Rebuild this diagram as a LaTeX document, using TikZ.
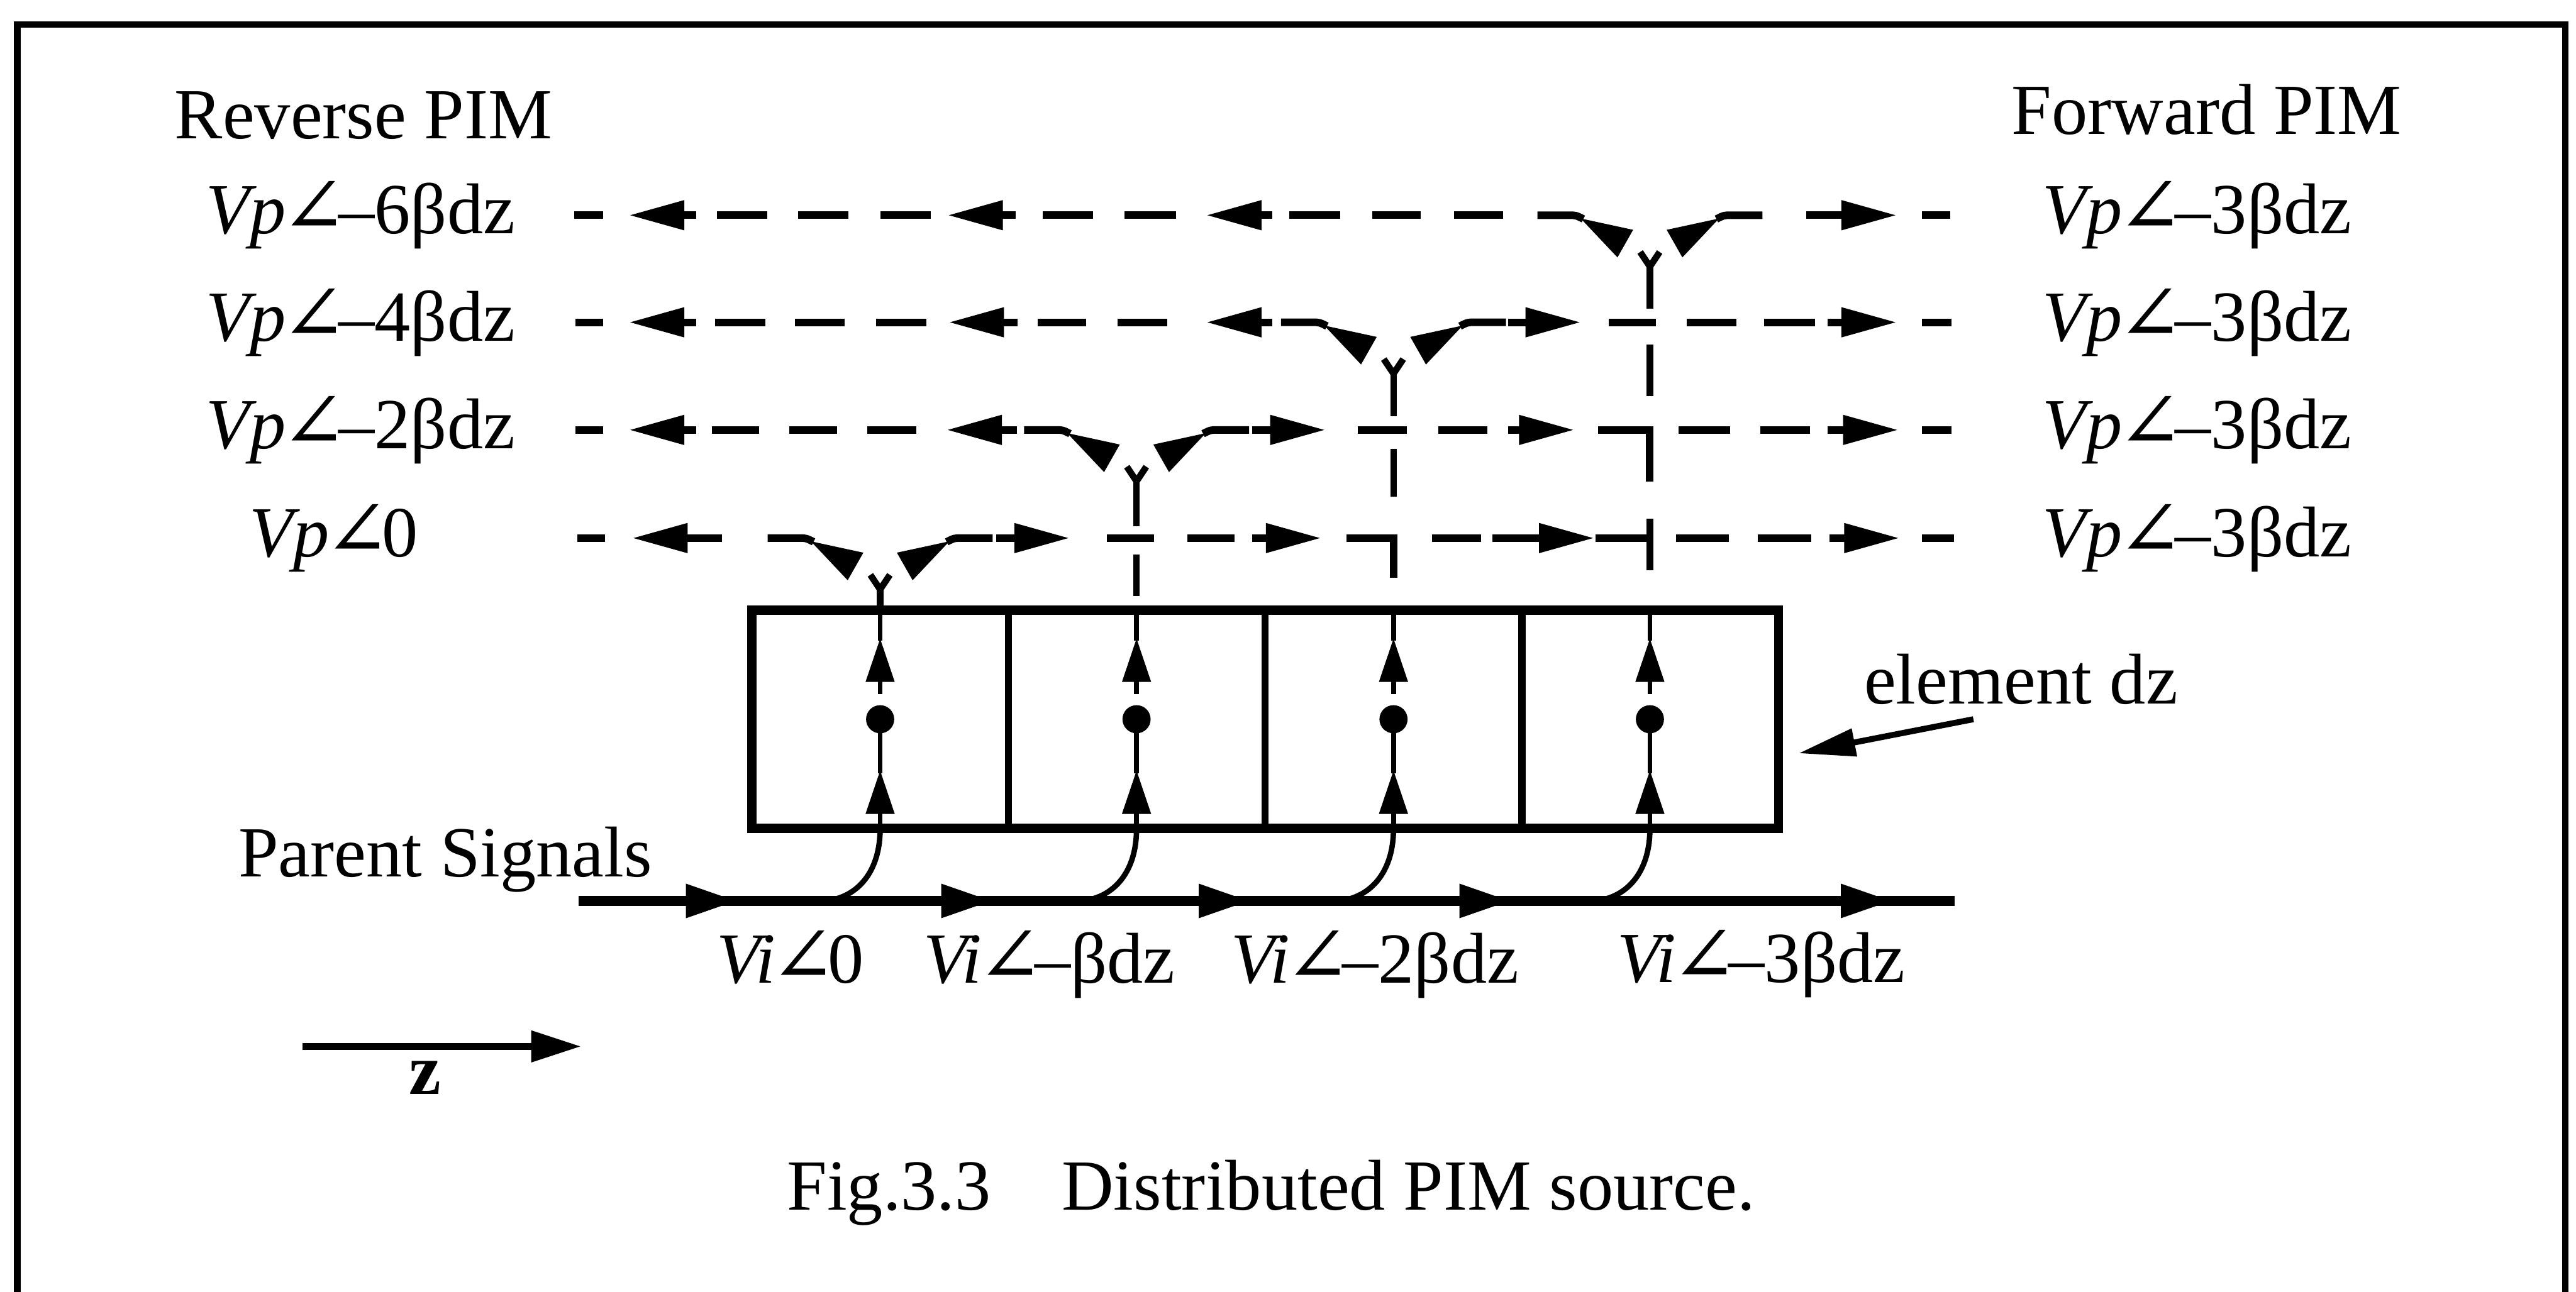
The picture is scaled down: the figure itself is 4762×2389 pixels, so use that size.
\documentclass[tikz,border=0pt]{standalone}
\usepackage{fontspec}
\setmainfont{Liberation Serif}
\newfontfamily\angfont{DejaVu Serif}[Scale=1.1]
\usetikzlibrary{arrows.meta}
\newcommand\ang{\kern-0.07em{\angfont\char"2220}\kern-0.12em}
\newcommand\vplab[1]{\textit{Vp}\ang#1}
\newcommand\vilab[1]{\textit{Vi}\ang#1}
% filled arrowheads: tip x, tip y
\newcommand\lh[2]{\fill (#1,#2) -- (#1+100,#2-28) -- (#1+100,#2+28) -- cycle;}
\newcommand\rh[2]{\fill (#1,#2) -- (#1-100,#2-28) -- (#1-100,#2+28) -- cycle;}
\newcommand\mh[2]{\fill (#1,#2) -- (#1-92,#2-32) -- (#1-92,#2+32) -- cycle;}
\newcommand\uh[2]{\fill (#1,#2) -- (#1-27,#2+80) -- (#1+27,#2+80) -- cycle;}
% junction: column x, row y
\newcommand\junction[2]{%
  \draw[vl] (#1,#2+95) -- (#1-18,#2+68) (#1,#2+95) -- (#1+18,#2+68);
  \draw[hl] (#1-208,#2) -- (#1-150,#2) .. controls (#1-137,#2) .. (#1-123,#2+7);
  \draw[hl] (#1+208,#2) -- (#1+150,#2) .. controls (#1+137,#2) .. (#1+123,#2+7);
  \fill (#1-128,#2+6) -- (#1-31,#2+27) -- (#1-60,#2+78) -- cycle;
  \fill (#1+128,#2+6) -- (#1+31,#2+27) -- (#1+60,#2+78) -- cycle;}
% one dashed row: y, dashes, left arrows (tip/stub), right arrows (stub/tip)
\newcommand\row[4]{%
  \foreach \a/\b in {#2} {\draw[hl] (\a,#1) -- (\b,#1);}
  \foreach \t/\s in {#3} {\draw[hl] (\t+50,#1) -- (\s,#1); \lh{\t}{#1}}
  \foreach \s/\t in {#4} {\draw[hl] (\s,#1) -- (\t-50,#1); \rh{\t}{#1}}}
\begin{document}
\begin{tikzpicture}[x=0.1pt,y=-0.1pt,
  txt/.style={inner sep=0pt,font=\fontsize{13.3}{16}\selectfont},
  hl/.style={line width=1.4pt},
  vl/.style={line width=1.2pt},
  thinl/.style={line width=0.9pt},
  mainl/.style={line width=1.8pt},
  framel/.style={line width=1.2pt},
  stripbox/.style={draw,line width=1.7pt,inner sep=0pt,minimum width=189.8pt,minimum height=40.4pt}]
\useasboundingbox (0,0) rectangle (4762,2389);
\draw[framel] (32,2389) -- (32,45) -- (4742,45) -- (4742,2389);

% headings
\node[txt,anchor=base west] (rev) at (321,256) {Reverse PIM};
\node[txt,anchor=base west] (fwd) at (3717,248) {Forward PIM};

% row labels
\node[txt,anchor=west] (l1) at (379,398) {\vplab{–6βdz}};
\node[txt,anchor=west] (l2) at (379,596) {\vplab{–4βdz}};
\node[txt,anchor=west] (l3) at (379,795) {\vplab{–2βdz}};
\node[txt,anchor=west] (l4) at (459,995) {\vplab{0}};
\node[txt,anchor=west] (r1) at (3774,398) {\vplab{–3βdz}};
\node[txt,anchor=west] (r2) at (3774,596) {\vplab{–3βdz}};
\node[txt,anchor=west] (r3) at (3774,795) {\vplab{–3βdz}};
\node[txt,anchor=west] (r4) at (3774,995) {\vplab{–3βdz}};

% element strip
\node[stripbox] (strip) at (2339,1330) {};
\foreach \dx in {1864.5,2339,2813.5} \draw[line width=1.3pt] (\dx,1128) -- (\dx,1532);

% dashed PIM rows
\row{398}{1061/1115,1325/1418,1475/1568,1628/1721,1928/2021,2079/2174,2383/2477,2537/2626,2688/2779,3553/3605}{1165/1287,1754/1877,2232/2352}{3339/3504}
\junction{3050}{398}
\row{596}{1064/1115,1322/1415,1469/1561,1619/1713,1918/2008,2066/2158,2974/3061,3118/3210,3261/3355,3553/3607}{1165/1287,1756/1881,2232/2352}{2788/2920,3379/3504}
\junction{2576}{596}
\row{795}{1064/1115,1316/1403,1459/1547,1603/1694,2510/2601,2659/2750,3103/3198,3254/3346,3553/3607}{1165/1287,1752/1880}{2315/2448,2788/2908,3379/3507}
\junction{2101}{795}
\row{995}{1067/1118,2046/2133,2195/2282,2647/2738,3098/3196,3250/3348,3553/3612}{1171/1335}{1842/1975,2315/2440,2759/2945,3382/3509}
\junction{1627}{995}
% corners of verticals with rows
\draw[hl] (2954,795) -- (3050,795) -- (3050,890);
\draw[hl] (2489,995) -- (2576,995) -- (2576,1068);
\draw[hl] (2949,995) -- (3050,995);
% vertical dashed risers
\foreach \a/\b in {493/571,637/732,959/1054} \draw[vl] (3050,\a) -- (3050,\b);
\foreach \a/\b in {691/770,830/919} \draw[vl] (2576,\a) -- (2576,\b);
\foreach \a/\b in {890/973,1025/1102} \draw[vl] (2101,\a) -- (2101,\b);
\draw[vl] (1627,1090) -- (1627,1128);

% inside each element and the coupling curves
\foreach \cx in {1627,2101,2576,3050} {
  \draw[thinl] (\cx,1128) -- (\cx,1185);
  \draw[thinl] (\cx,1255) -- (\cx,1284);
  \uh{\cx}{1181}
  \fill (\cx,1330) circle[radius=26];
  \draw[thinl] (\cx,1330) -- (\cx,1430);
  \uh{\cx}{1425}
  \draw[thinl] (\cx,1500) -- (\cx,1534);
  \draw[line width=1pt] (\cx-110,1666) .. controls (\cx-55,1666) and (\cx,1625) .. (\cx,1532);
}

% parent signal line
\node[txt,anchor=base west] (ps) at (439,1621) {Parent Signals};
\draw[mainl] (1070,1666) -- (3613,1666);
\foreach \t in {1360,1832,2308,2790,3495} {\mh{\t}{1666}}
\node[txt,anchor=base west] (v1) at (1323,1818) {\vilab{0}};
\node[txt,anchor=base west] (v2) at (1705,1818) {\vilab{–βdz}};
\node[txt,anchor=base west] (v3) at (2274,1818) {\vilab{–2βdz}};
\node[txt,anchor=base west] (v4) at (2988,1816) {\vilab{–3βdz}};

% element label
\node[txt,anchor=base west] (el) at (3444,1301) {element dz};
\coordinate (eltail) at (3648,1330);
\coordinate (elhead) at (3325,1393);
\draw[line width=1.1pt,-{Triangle[length=10.5pt,width=5pt]}] (eltail) -- (elhead);

% z direction
\coordinate (za) at (559,1935);
\coordinate (zb) at (1074,1935);
\draw[line width=1.2pt,-{Triangle[length=9.2pt,width=5.6pt]}] (za) -- (zb);
\node[txt,anchor=base] (zl) at (786,2023) {\textbf{z}};

% caption
\node[txt,anchor=base west] (cap) at (1453,2237) {Fig.3.3\hspace{13.1pt}Distributed PIM source.};
\end{tikzpicture}
\end{document}
